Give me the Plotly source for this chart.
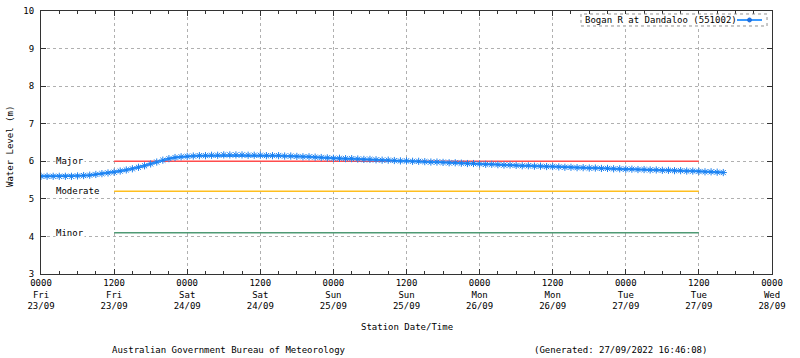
import pandas as pd
import plotly.graph_objects as go

# ---- data ----
start_time = "2022-09-23 00:00"
water_level = [
    5.60, 5.60, 5.60, 5.60, 5.60, 5.60, 5.61,
    5.62, 5.63, 5.65, 5.67, 5.69, 5.71,
    5.74, 5.77, 5.80, 5.84, 5.88, 5.93,
    5.98, 6.03, 6.07, 6.10, 6.12, 6.13,
    6.14, 6.15, 6.15, 6.16, 6.16, 6.17,
    6.17, 6.17, 6.17, 6.16, 6.16, 6.16,
    6.15, 6.15, 6.15, 6.14, 6.14, 6.13,
    6.12, 6.12, 6.11, 6.10, 6.09, 6.08,
    6.08, 6.07, 6.07, 6.06, 6.05, 6.05,
    6.04, 6.03, 6.03, 6.02, 6.01, 6.01,
    6.00, 6.00, 5.99, 5.98, 5.98, 5.97,
    5.96, 5.96, 5.95, 5.94, 5.94, 5.93,
    5.92, 5.92, 5.91, 5.90, 5.90, 5.89,
    5.88, 5.88, 5.87, 5.87, 5.86, 5.86,
    5.85, 5.84, 5.84, 5.83, 5.83, 5.82,
    5.82, 5.81, 5.81, 5.80, 5.80, 5.79,
    5.79, 5.78, 5.78, 5.77, 5.77, 5.76,
    5.76, 5.75, 5.75, 5.74, 5.74, 5.73,
    5.72, 5.72, 5.71, 5.70,
]
times = pd.date_range(start_time, periods=len(water_level), freq="h")

series_name = "Bogan R at Dandaloo (551002)"

threshold_names = ["Major", "Moderate", "Minor"]
threshold_values = [6.0, 5.2, 4.1]
threshold_colors = ["#ff4d4d", "#ffbf1f", "#4f9a74"]
threshold_start = "2022-09-23 12:00"
threshold_end = "2022-09-27 12:00"

tick_times = pd.date_range("2022-09-23 00:00", "2022-09-28 00:00", freq="12h")
tick_labels = [
    "0000<br>Fri<br>23/09", "1200<br>Fri<br>23/09",
    "0000<br>Sat<br>24/09", "1200<br>Sat<br>24/09",
    "0000<br>Sun<br>25/09", "1200<br>Sun<br>25/09",
    "0000<br>Mon<br>26/09", "1200<br>Mon<br>26/09",
    "0000<br>Tue<br>27/09", "1200<br>Tue<br>27/09",
    "0000<br>Wed<br>28/09",
]
y_ticks = [3, 4, 5, 6, 7, 8, 9, 10]

FONT = "DejaVu Sans Mono"
fig = go.Figure()

for name, val, col in zip(threshold_names, threshold_values, threshold_colors):
    fig.add_trace(go.Scatter(
        x=[threshold_start, threshold_end], y=[val, val], mode="lines",
        line=dict(color=col, width=1.5), showlegend=False, hoverinfo="skip"))
    fig.add_annotation(x="2022-09-23 02:20", y=val, xref="x", yref="y",
                       text=name, showarrow=False, xanchor="left", yanchor="middle",
                       bgcolor="white", borderpad=0,
                       font=dict(family=FONT, size=9, color="black"))

fig.add_trace(go.Scatter(
    x=times, y=water_level, mode="lines+markers", name=series_name,
    line=dict(color="#3a9aff", width=2.5),
    marker=dict(symbol="asterisk-open", size=6, color="#1a80f0",
                line=dict(color="#1a80f0", width=1)),
    showlegend=False))

axis_common = dict(
    showline=True, linecolor="#333333", linewidth=1, mirror="allticks",
    ticks="inside", ticklen=5, tickcolor="#333333", automargin=False,
    showgrid=True, gridcolor="#b0b0b0", griddash="dot", gridwidth=1,
    zeroline=False, tickfont=dict(family=FONT, size=9, color="black"),
)

fig.update_xaxes(
    range=["2022-09-23 00:00", "2022-09-28 00:00"],
    tickmode="array", tickvals=tick_times, ticktext=tick_labels,
    minor=dict(dtick=3 * 3600 * 1000, tick0="2022-09-23 00:00",
               ticks="inside", ticklen=3, tickcolor="#333333", showgrid=False),
    **axis_common)
fig.update_yaxes(range=[3, 10], tickmode="array", tickvals=y_ticks,
                 ticklabelstandoff=4, **axis_common)

annots = [
    dict(x=0.5, y=-0.2015, text="Station Date/Time", xanchor="center"),
    dict(x=0.0944, y=-0.289, text="Australian Government Bureau of Meteorology", xanchor="left"),
    dict(x=0.6717, y=-0.289, text="(Generated: 27/09/2022 16:46:08)", xanchor="left"),
]
for a in annots:
    fig.add_annotation(xref="paper", yref="paper", showarrow=False, yanchor="middle",
                       font=dict(family=FONT, size=9, color="black"), **a)
fig.add_annotation(xref="paper", yref="paper", x=-0.0424, y=0.483, text="Water Level (m)",
                   textangle=-90, showarrow=False, xanchor="center", yanchor="middle",
                   font=dict(family=FONT, size=9, color="black"))

# legend box (text + sample on right, like original)
fig.add_shape(type="rect", xref="paper", yref="paper", x0=0.7387, x1=0.9932,
              y0=0.943, y1=0.9886, line=dict(color="#909090", width=1, dash="dot"),
              fillcolor="white", layer="above")
fig.add_annotation(xref="paper", yref="paper", x=0.7415, y=0.9658, text=series_name,
                   showarrow=False, xanchor="left", yanchor="middle",
                   font=dict(family=FONT, size=9, color="black"))
fig.add_shape(type="line", xref="paper", yref="paper", x0=0.9521, x1=0.9863,
              y0=0.9658, y1=0.9658, line=dict(color="#3a9aff", width=2), layer="above")
fig.add_shape(type="circle", xref="paper", yref="paper", x0=0.9665, x1=0.9720,
              y0=0.9582, y1=0.9734, line=dict(color="#1e6fe0", width=1),
              fillcolor="#1e6fe0", layer="above")

fig.update_layout(
    width=800, height=358,
    margin=dict(l=41, r=28, t=11, b=84),
    plot_bgcolor="white", paper_bgcolor="white",
    showlegend=False,
    font=dict(family=FONT, size=9, color="black"),
)

fig.write_html("out.html", config={"displayModeBar": False},
               post_script="document.body.style.margin='0';")
